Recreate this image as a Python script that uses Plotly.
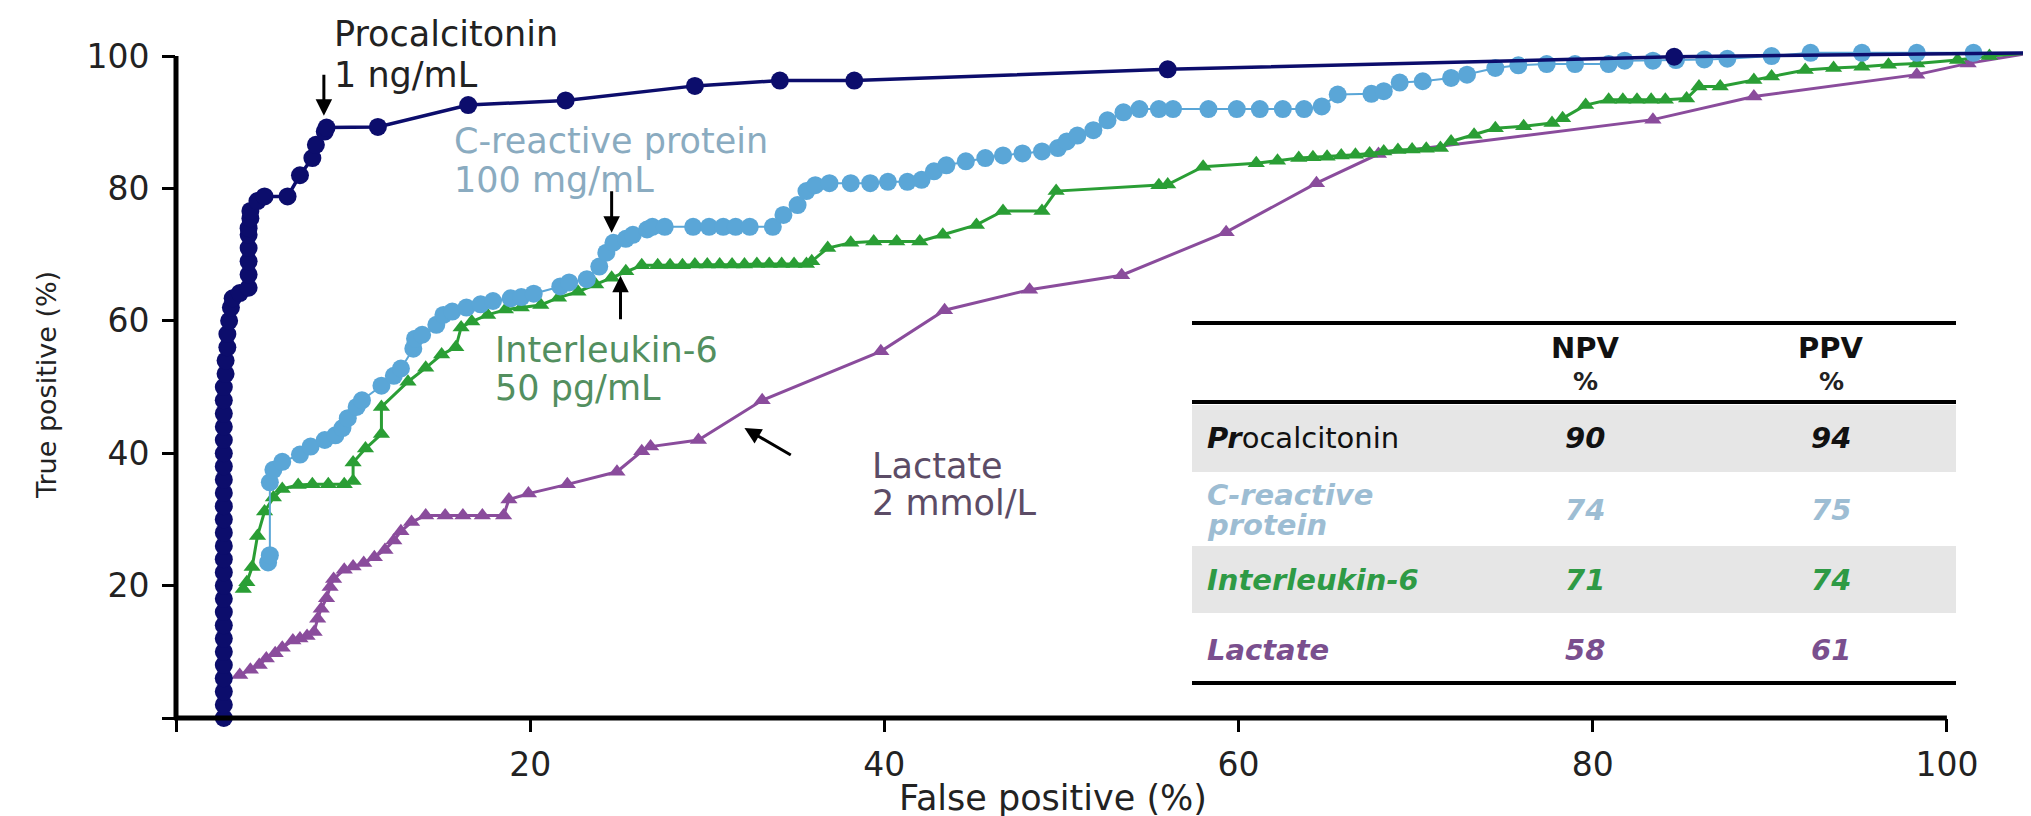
"""ROC curves of four sepsis biomarkers with an NPV / PPV table inset."""
import plotly.graph_objects as go

# ── Data (false positive %, true positive %) ────────────────────────────

PCT_FPR = [2.7, 2.7, 2.7, 2.7, 2.7, 2.7, 2.7, 2.7, 2.7, 2.7, 2.7, 2.7, 2.7,
           2.7, 2.7, 2.7, 2.7, 2.7, 2.7, 2.7, 2.7, 2.7, 2.7, 2.7, 2.7, 2.7,
           2.8, 2.8, 2.9, 2.9, 3.0, 3.1, 3.2, 3.6, 4.1, 4.1, 4.1, 4.1, 4.1,
           4.1, 4.2, 4.2, 4.6, 5.0, 6.3, 7.0, 7.7, 7.9, 8.4, 8.5, 11.4,
           16.5, 22.0, 29.3, 34.1, 38.3, 56.0, 84.6, 104.8]
PCT_TPR = [0, 2, 4, 6, 8, 10, 12, 14, 16, 18, 20, 22, 24,
           26, 28, 30, 32, 34, 36, 38, 40, 42, 44, 46, 48, 50,
           52, 54, 56, 58, 60, 62, 63.4, 64.2, 65, 67, 69, 71, 73,
           74, 75.5, 76.6, 78.1, 78.8, 78.8, 82, 84.6, 86.6, 88.6, 89.2, 89.3,
           92.6, 93.3, 95.5, 96.3, 96.3, 98.0, 99.9, 100.5]

CRP_FPR = [5.2, 5.3, 5.3, 5.5, 6.0, 7.0, 7.6, 8.4, 9.0, 9.4, 9.7, 10.2, 10.5,
           11.6, 12.3, 12.7, 13.4, 13.5, 13.9, 14.7, 15.1, 15.6, 16.4, 17.2,
           17.9, 18.9, 19.5, 20.2, 21.7, 22.2, 23.2, 23.9, 24.3, 24.7, 25.4,
           25.8, 26.6, 26.9, 27.6, 29.2, 30.1, 30.9, 31.6, 32.4, 33.7, 34.3,
           35.1, 35.6, 36.1, 36.9, 38.1, 39.2, 40.2, 41.3, 42.1, 42.8, 43.5,
           44.6, 45.7, 46.7, 47.8, 48.9, 49.8, 50.3, 50.9, 51.8, 52.6, 53.5,
           54.4, 55.5, 56.3, 58.3, 59.9, 61.2, 62.5, 63.7, 64.7, 65.6, 67.5,
           68.2, 69.1, 70.4, 72.0, 72.9, 74.5, 75.8, 77.4, 79.0, 80.9, 81.8,
           83.4, 84.7, 86.3, 87.6, 90.1, 92.3, 95.2, 98.3, 101.5, 104.8]
CRP_TPR = [23.5, 24.6, 35.6, 37.5, 38.7, 39.8, 41.0, 42.0, 42.7, 43.8, 45.3,
           47.0, 48.0, 50.2, 51.7, 52.8, 55.8, 57.3, 57.9, 59.4, 60.9, 61.4,
           62.0, 62.5, 63.0, 63.4, 63.6, 64.1, 65.2, 65.8, 66.3, 68.2, 70.3,
           71.8, 72.4, 73.0, 73.8, 74.2, 74.2, 74.2, 74.2, 74.2, 74.2, 74.2,
           74.2, 76.0, 77.5, 79.6, 80.5, 80.8, 80.8, 80.8, 81.0, 81.0, 81.3,
           82.6, 83.5, 84.1, 84.6, 85.0, 85.3, 85.6, 86.1, 87.1, 88.0, 88.8,
           90.3, 91.5, 92.0, 92.0, 92.0, 92.0, 92.0, 92.0, 92.0, 92.0, 92.4,
           94.2, 94.3, 94.7, 96.0, 96.2, 96.7, 97.2, 98.2, 98.6, 98.8, 98.8,
           98.8, 99.3, 99.3, 99.4, 99.5, 99.6, 100.0, 100.5, 100.5, 100.5,
           100.5, 100.5]

IL6_FPR = [3.8, 4.0, 4.3, 4.6, 5.0, 5.5, 6.0, 6.9, 7.7, 8.6, 9.5, 10.0, 10.0,
           10.7, 11.6, 11.6, 13.1, 14.1, 15.0, 15.8, 16.1, 16.7, 17.6, 18.6,
           19.5, 20.6, 21.6, 22.7, 23.7, 24.6, 25.4, 26.3, 27.2, 27.9, 28.6,
           29.3, 30.0, 30.7, 31.4, 32.1, 32.8, 33.5, 34.2, 34.9, 35.6, 35.9,
           36.8, 38.1, 39.4, 40.7, 42.0, 43.3, 45.2, 46.7, 48.9, 49.7, 55.5,
           56.0, 58.0, 61.0, 62.2, 63.4, 64.2, 65.0, 65.8, 66.6, 67.4, 68.2,
           69.0, 69.8, 70.6, 71.4, 72.0, 73.3, 74.5, 76.1, 77.7, 78.3, 79.6,
           80.9, 81.7, 82.5, 83.3, 84.1, 85.3, 86.0, 87.2, 89.1, 90.1, 92.0,
           93.6, 95.2, 96.7, 98.3, 100.6, 102.4, 104.8]
IL6_TPR = [19.5, 20.5, 22.8, 27.5, 31.2, 33.3, 34.6, 35.2, 35.3, 35.3, 35.3,
           35.8, 38.6, 40.7, 42.9, 47.0, 50.8, 52.9, 54.9, 56.0, 59.0, 59.9,
           60.9, 61.7, 62.0, 62.4, 63.5, 64.4, 65.5, 66.5, 67.5, 68.4, 68.4,
           68.4, 68.4, 68.5, 68.5, 68.5, 68.5, 68.5, 68.6, 68.6, 68.6, 68.6,
           68.6, 69.0, 71.0, 71.8, 72.0, 72.0, 72.0, 73.0, 74.5, 76.6, 76.6,
           79.6, 80.5, 80.6, 83.3, 83.8, 84.2, 84.6, 84.7, 84.8, 85.0, 85.1,
           85.3, 85.6, 85.8, 85.9, 86.0, 86.1, 87.1, 88.1, 89.1, 89.4, 89.9,
           90.6, 92.6, 93.4, 93.4, 93.4, 93.4, 93.4, 93.6, 95.4, 95.4, 96.4,
           96.9, 97.9, 98.2, 98.4, 98.7, 98.9, 99.4, 100.0, 100.5]

LAC_FPR = [3.6, 4.2, 4.7, 5.1, 5.6, 6.0, 6.6, 7.0, 7.4, 7.8, 8.0, 8.2, 8.5,
           8.7, 8.9, 9.5, 10.0, 10.6, 11.2, 11.8, 12.3, 12.7, 13.3, 14.1,
           15.2, 16.2, 17.3, 18.5, 18.8, 19.9, 22.1, 24.9, 26.3, 26.8, 29.5,
           33.1, 39.8, 43.4, 48.2, 53.4, 59.3, 64.4, 67.9, 83.4, 89.1, 98.3,
           101.2, 104.8]
LAC_TPR = [6.5, 7.3, 8.0, 9.0, 9.8, 10.6, 11.7, 12.0, 12.4, 13.0, 15.0, 16.5,
           18.1, 19.8, 21.0, 22.4, 22.9, 23.4, 24.3, 25.4, 26.8, 28.2, 29.6,
           30.6, 30.6, 30.6, 30.6, 30.6, 33.0, 33.9, 35.3, 37.2, 40.3, 41.0,
           42.0, 48.0, 55.4, 61.6, 64.7, 66.9, 73.4, 80.8, 85.2, 90.4, 93.9,
           97.2, 98.9, 100.5]

# table inset: one list of text lines per marker, then NPV / PPV in %
TABLE_NAMES = [["<b><i>Pr</i></b>ocalcitonin"],
               ["<b><i>C-reactive</i></b>", "<b><i>protein</i></b>"],
               ["<b><i>Interleukin-6</i></b>"],
               ["<b><i>Lactate</i></b>"]]
NPV = [90, 74, 71, 58]
PPV = [94, 75, 74, 61]

TICKS = [0, 20, 40, 60, 80, 100]

# ── Styling ──────────────────────────────────────────────────────────

FONT = "DejaVu Sans"
NAVY = "#0c0d6c"
CRP_BLUE = "#5aa6d7"
IL6_GREEN = "#2a9e35"
LAC_PURPLE = "#8a4c9c"
ROW_COLORS = ["#111111", "#9dbdd3", "#2e9a45", "#7a4f8e"]

W, H = 2031, 816
L, R, T, B = 168, 0, 15, 106
X_RANGE = [0, 105.2]
Y_RANGE = [0, 105]


def px(x):
    """Pixel column -> paper x."""
    return (x - L) / (W - L - R)


def py(y):
    """Pixel row -> paper y."""
    return (H - B - y) / (H - T - B)


fig = go.Figure()

for fpr, tpr, color, line_w, symbol, size in [
    (LAC_FPR, LAC_TPR, LAC_PURPLE, 3, "triangle-up", 15),
    (IL6_FPR, IL6_TPR, IL6_GREEN, 3, "triangle-up", 15),
    (CRP_FPR, CRP_TPR, CRP_BLUE, 2, "circle", 18),
    (PCT_FPR, PCT_TPR, NAVY, 3.5, "circle", 18),
]:
    fig.add_trace(go.Scatter(
        x=fpr, y=tpr,
        mode="lines+markers",
        line=dict(color=color, width=line_w),
        marker=dict(symbol=symbol, size=size, color=color, line=dict(width=0)),
        cliponaxis=False,
        showlegend=False,
        hoverinfo="skip",
    ))

# ── Axis lines (they stop at 100 like the original) ──────────────────
shapes = [
    dict(type="line", xref="paper", yref="paper",
         x0=-0.001, x1=100 / X_RANGE[1], y0=0, y1=0,
         line=dict(color="black", width=5)),
    dict(type="line", xref="paper", yref="paper",
         x0=0, x1=0, y0=-0.002, y1=100 / Y_RANGE[1],
         line=dict(color="black", width=5)),
]

# ── Table inset ──────────────────────────────────────────────────────
TAB_L, TAB_R = 1184, 1948
for top, bot in [(397, 464), (538, 605)]:
    shapes.append(dict(type="rect", xref="paper", yref="paper",
                       x0=px(TAB_L), x1=px(TAB_R), y0=py(bot), y1=py(top),
                       fillcolor="#e6e6e6", line=dict(width=0), layer="below"))
for y in [315, 394, 675]:
    shapes.append(dict(type="line", xref="paper", yref="paper",
                       x0=px(TAB_L), x1=px(TAB_R), y0=py(y), y1=py(y),
                       line=dict(color="black", width=4)))

annotations = []


def text_at(xp, yp, text, size, color, anchor="center"):
    annotations.append(dict(
        xref="paper", yref="paper", x=px(xp), y=py(yp),
        text=text, showarrow=False, xanchor=anchor, yanchor="middle",
        font=dict(family=FONT, size=size, color=color),
    ))


COL_NPV, COL_PPV = 1577, 1823
ROW_Y = [430, 502, 572, 642]
TAB_SIZE = 29
for col, head in [(COL_NPV, "NPV"), (COL_PPV, "PPV")]:
    text_at(col, 340, f"<b>{head}</b>", TAB_SIZE, "#111111")
    text_at(col, 373, "<b>%</b>", TAB_SIZE - 4, "#222222")
for lines, npv, ppv, ry, color in zip(TABLE_NAMES, NPV, PPV, ROW_Y, ROW_COLORS):
    offset = -15 * (len(lines) - 1)
    for i, line in enumerate(lines):
        text_at(1197, ry + offset + 30 * i, line, TAB_SIZE, color, anchor="left")
    text_at(COL_NPV, ry, f"<b><i>{npv}</i></b>", TAB_SIZE, color)
    text_at(COL_PPV, ry, f"<b><i>{ppv}</i></b>", TAB_SIZE, color)

# ── Curve labels and threshold arrows ────────────────────────────────
for line1, line2, x, y1, y2, color in [
    ("Procalcitonin", "1 ng/mL", 8.8, 103.4, 97.2, "#222222"),
    ("C-reactive protein", "100 mg/mL", 15.6, 87.2, 81.3, "#8aabc0"),
    ("Interleukin-6", "50 pg/mL", 17.9, 55.6, 49.8, "#538f5f"),
    ("Lactate", "2 mmol/L", 39.2, 38.1, 32.5, "#5c4c66"),
]:
    for text, y in [(line1, y1), (line2, y2)]:
        annotations.append(dict(
            xref="x", yref="y", x=x, y=y, text=text, showarrow=False,
            xanchor="left", yanchor="middle",
            font=dict(family=FONT, size=35, color=color),
        ))

for tip_x, tip_y, tail_x, tail_y in [
    (8.35, 91.0, 8.35, 97.4),
    (24.6, 73.3, 24.6, 79.8),
    (25.1, 66.8, 25.1, 60.0),
    (32.1, 43.8, 34.8, 39.6),
]:
    annotations.append(dict(
        xref="x", yref="y", x=tip_x, y=tip_y,
        axref="x", ayref="y", ax=tail_x, ay=tail_y,
        text="", showarrow=True, arrowhead=2, arrowsize=1.1,
        arrowwidth=3, arrowcolor="black",
    ))

# ── Axis titles ──────────────────────────────────────────────────────
text_at(1045, 790, "False positive (%)", 35, "#222222")
annotations.append(dict(
    xref="paper", yref="paper", x=px(38), y=py(377),
    text="True positive (%)", showarrow=False, textangle=-90,
    xanchor="center", yanchor="middle",
    font=dict(family=FONT, size=27, color="#222222"),
))

axis_common = dict(
    showgrid=False, zeroline=False, showline=False,
    ticks="outside", ticklen=13, tickwidth=3, tickcolor="black",
    tickvals=TICKS, ticktext=[""] + [str(t) for t in TICKS[1:]],
    tickfont=dict(family=FONT, size=33, color="#222222"),
)

fig.update_layout(
    width=W, height=H,
    margin=dict(l=L, r=R, t=T, b=B),
    paper_bgcolor="white", plot_bgcolor="white",
    xaxis=dict(range=X_RANGE, ticklabelstandoff=4, **axis_common),
    yaxis=dict(range=Y_RANGE, ticklabelstandoff=6, **axis_common),
    shapes=shapes,
    annotations=annotations,
)

fig.write_html("out.html")
